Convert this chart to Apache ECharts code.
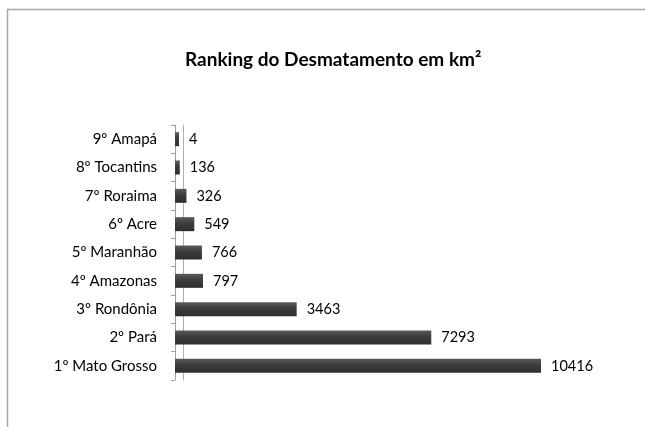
<!DOCTYPE html>
<html>
<head>
<meta charset="utf-8">
<title>Ranking do Desmatamento em km²</title>
<script src="https://cdn.jsdelivr.net/npm/echarts@6/dist/echarts.min.js"></script>
<style>
  html, body { margin: 0; padding: 0; background: #fff; }
  #chart { width: 645px; height: 427px; }
</style>
</head>
<body>
<div id="chart"></div>
<script>
// categories from bottom to top, as the axis draws them
const estados = ['1º Mato Grosso', '2º Pará', '3º Rondônia', '4º Amazonas', '5º Maranhão', '6º Acre', '7º Roraima', '8º Tocantins', '9º Amapá']
const desmatamento = [10416, 7293, 3463, 797, 766, 549, 326, 136, 4]

const font = 'Lato, "Open Sans", "Noto Sans", sans-serif'

const chart = echarts.init(document.getElementById('chart'), null, { renderer: 'canvas' })
chart.setOption({
  animation: false,
  backgroundColor: '#fff',
  title: {
    text: 'Ranking do Desmatamento em km²',
    left: 180,
    top: 45,
    textStyle: { fontFamily: font, fontSize: 19, fontWeight: 'bold', color: '#000' }
  },
  graphic: [{
    // chart frame, runs off the right and bottom of the picture
    type: 'polyline',
    shape: { points: [[7.5, 440], [7.5, 9.5], [660, 9.5]] },
    style: { fill: 'none', stroke: '#a6a6a6', lineWidth: 1.5 },
    silent: true
  }],
  grid: { left: 175, right: 104, top: 125, bottom: 47 },
  xAxis: {
    type: 'value',
    min: 0,
    max: 10416,
    show: false
  },
  yAxis: [{
    type: 'category',
    data: estados,
    offset: 3,
    axisLine: { show: true, lineStyle: { color: '#a0a0a0', width: 1 } },
    axisTick: { show: true, length: 4, lineStyle: { color: '#a0a0a0' } },
    axisLabel: { fontFamily: font, fontSize: 15, color: '#000', margin: 15 },
    splitLine: { show: false }
  }, {
    // back edge of the 3D wall
    type: 'category',
    data: estados,
    position: 'left',
    offset: -8,
    axisLine: { show: true, lineStyle: { color: '#b0b0b0', width: 1 } },
    axisTick: { show: false },
    axisLabel: { show: false }
  }],
  series: [{
    type: 'bar',
    data: desmatamento,
    barWidth: 14,
    barMinHeight: 4,
    itemStyle: {
      color: new echarts.graphic.LinearGradient(0, 0, 0, 1, [
        { offset: 0, color: '#5a5a5a' },
        { offset: 0.45, color: '#3c3c3c' },
        { offset: 1, color: '#2e2e2e' }
      ])
    },
    label: {
      show: true,
      position: 'right',
      distance: 10,
      fontFamily: font,
      fontSize: 14.5,
      color: '#000'
    }
  }]
})
</script>
</body>
</html>
